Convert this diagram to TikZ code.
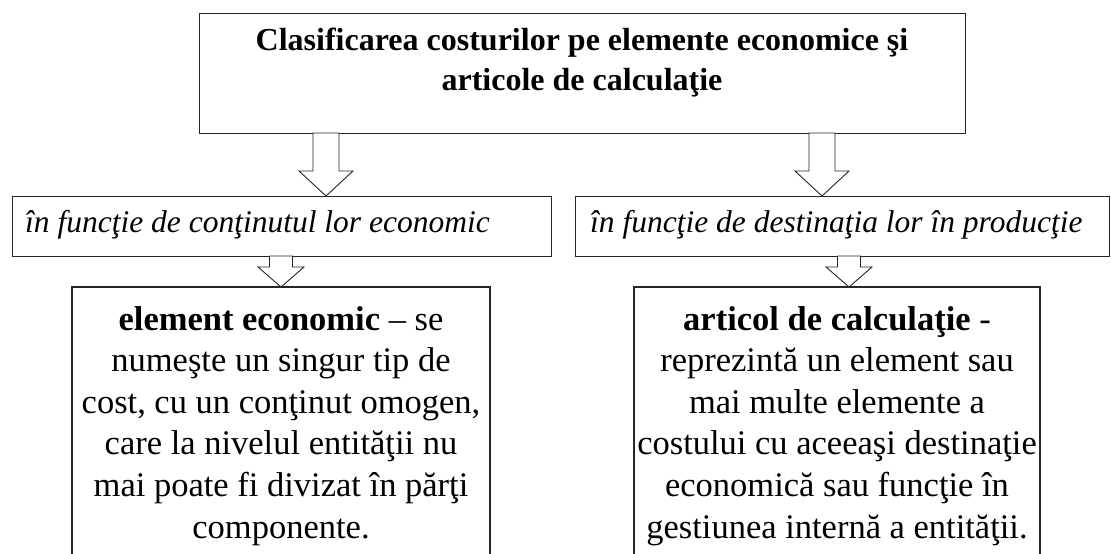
\documentclass[tikz,border=0pt]{standalone}
\usepackage{fontspec}
\setmainfont{Liberation Serif}
\usetikzlibrary{calc}
% block arrow: #1 = start coordinate (on box border), #2 = tip coordinate,
% #3 = half shaft width, #4 = half head width, #5 = head length
\newcommand\blkarrow[5]{%
  \draw[arrowshape] let \p1=(#1), \p2=(#2) in
    (\x1-#3,\y1) -- (\x1-#3,\y2+#5) -- (\x1-#4,\y2+#5) -- (\x1,\y2)
    -- (\x1+#4,\y2+#5) -- (\x1+#3,\y2+#5) -- (\x1+#3,\y1) -- cycle;}
\begin{document}
\begin{tikzpicture}[x=1pt,y=-1pt,
  box/.style={draw=black!85, line width=1.1pt, inner sep=0pt, anchor=north west},
  openbox/.style={draw=black!85, line width=1.1pt},
  arrowshape/.style={draw=black!85, line width=0.9pt, fill=white, line join=miter},
  titletext/.style={inner sep=0pt, align=center, font=\fontsize{32}{39.5}\selectfont\bfseries},
  midtext/.style={inner sep=0pt, font=\fontsize{31.5}{36}\selectfont\itshape},
  bodytext/.style={inner sep=0pt, align=center, font=\fontsize{34.5}{41.6}\selectfont}]
\useasboundingbox (0,0) rectangle (1111,554);
\fill[white] (0,0) rectangle (1111,554);

% top box
\node[box, minimum width=766pt, minimum height=120pt] (top) at (199,13) {};
\node[titletext, anchor=north] (title) at (582,28)
  {Clasificarea costurilor pe elemente economice şi\\articole de calculaţie};

% middle boxes
\node[box, minimum width=539pt, minimum height=60pt] (midL) at (12,196) {};
\node[midtext, anchor=base west] (midLt) at (25,232) {în funcţie de conţinutul lor economic};
\node[box, minimum width=534pt, minimum height=60pt] (midR) at (575,196) {};
\node[midtext, anchor=base west] (midRt) at (590,232) {în funcţie de destinaţia lor în producţie};

% bottom boxes (open at the lower edge of the picture)
\coordinate (botLtl) at (72,287);
\coordinate (botLtr) at (490,287);
\draw[openbox] (botLtl |- 0,554) -- (botLtl) -- (botLtr) -- (botLtr |- 0,554);
\node[bodytext, anchor=north] (botLt) at (281,306)
  {\textbf{element economic} – se\\numeşte un singur tip de\\cost, cu un conţinut omogen,\\care la nivelul entităţii nu\\mai poate fi divizat în părţi\\componente.};

\coordinate (botRtl) at (634,287);
\coordinate (botRtr) at (1040,287);
\draw[openbox] (botRtl |- 0,554) -- (botRtl) -- (botRtr) -- (botRtr |- 0,554);
\node[bodytext, anchor=north] (botRt) at (837,306)
  {\textbf{articol de calculaţie} -\\reprezintă un element sau\\mai multe elemente a\\costului cu aceeaşi destinaţie\\economică sau funcţie în\\gestiunea internă a entităţii.};

% block arrows
\coordinate (a1s) at (326,133); \coordinate (a1e) at (326,196);
\coordinate (a2s) at (822,133); \coordinate (a2e) at (822,196);
\coordinate (a3s) at (281,256); \coordinate (a3e) at (281,287);
\coordinate (a4s) at (849,256); \coordinate (a4e) at (849,287);
\blkarrow{a1s}{a1e}{13pt}{27pt}{25pt}
\blkarrow{a2s}{a2e}{13pt}{27pt}{25pt}
\blkarrow{a3s}{a3e}{11.5pt}{23pt}{20pt}
\blkarrow{a4s}{a4e}{11.5pt}{23pt}{20pt}
\end{tikzpicture}
\end{document}
